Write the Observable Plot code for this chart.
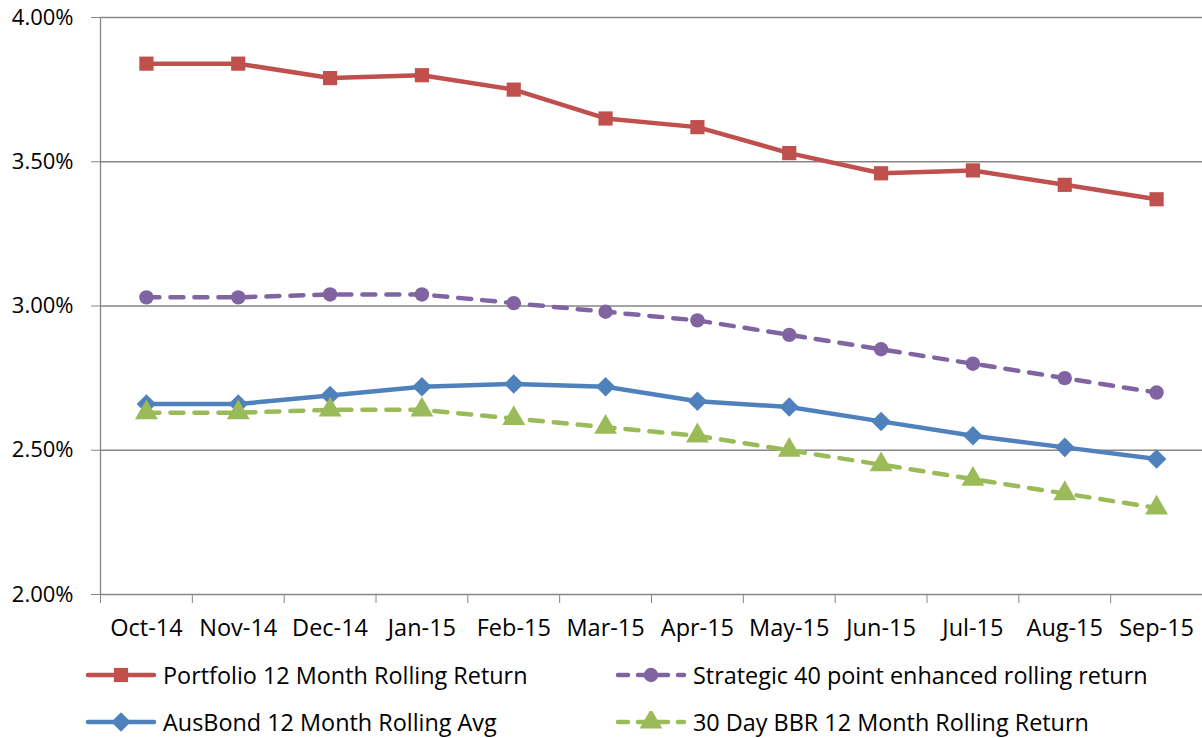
<!DOCTYPE html>
<html>
<head>
<meta charset="utf-8">
<script src="https://cdn.jsdelivr.net/npm/d3@7"></script>
<script src="https://cdn.jsdelivr.net/npm/@observablehq/plot@0.6"></script>
<style>
  html, body { margin: 0; padding: 0; background: #fff; }
  body { width: 1202px; height: 738px; overflow: hidden; font-family: "Open Sans", sans-serif; }
  #chart svg { display: block; }
  #legend { position: relative; height: 93px; }
  .item { position: absolute; display: flex; align-items: center; font-size: 23.4px; color: #000; white-space: nowrap; }
  .item svg { display: block; margin-right: 6px; }
</style>
</head>
<body>
<div id="chart"></div>
<div id="legend"></div>
<script>
const months = ["Oct-14","Nov-14","Dec-14","Jan-15","Feb-15","Mar-15","Apr-15","May-15","Jun-15","Jul-15","Aug-15","Sep-15"];
const seriesNames = ["Portfolio 12 Month Rolling Return","Strategic 40 point enhanced rolling return","AusBond 12 Month Rolling Avg","30 Day BBR 12 Month Rolling Return"];
const portfolio = [3.84,3.84,3.79,3.80,3.75,3.65,3.62,3.53,3.46,3.47,3.42,3.37];
const strategic = [3.03,3.03,3.04,3.04,3.01,2.98,2.95,2.90,2.85,2.80,2.75,2.70];
const ausbond   = [2.66,2.66,2.69,2.72,2.73,2.72,2.67,2.65,2.60,2.55,2.51,2.47];
const bbr       = [2.63,2.63,2.64,2.64,2.61,2.58,2.55,2.50,2.45,2.40,2.35,2.30];
const yTicks = [2.0,2.5,3.0,3.5,4.0];

const colors = ["#C0504D","#8064A2","#4F81BD","#9BBB59"];
const symbols = ["square","circle","diamond2","triangle"];
const radii = [8,7.2,8.8,8.5];
const dashed = [false,true,false,true];
const values = [portfolio, strategic, ausbond, bbr];

const data = [];
values.forEach((arr, s) => arr.forEach((v, i) => data.push({s, i, v})));

const marks = [
  Plot.ruleY(yTicks.slice(1), {stroke: "#868686", strokeWidth: 1.3}),
  Plot.axisY({ticks: yTicks, tickFormat: d => d.toFixed(2) + "%", tickSize: 9, tickPadding: 18, fontSize: 22, stroke: "#868686", color: "#000", label: null}),
  Plot.axisX({ticks: d3.range(12), tickFormat: i => months[i], tickSize: 0, tickPadding: 25, fontSize: 23.5, label: null}),
  Plot.axisX({ticks: d3.range(13).map(k => k - 0.5), tickFormat: () => "", tickSize: 9, stroke: "#868686", label: null}),
  Plot.ruleX([-0.5], {stroke: "#868686", strokeWidth: 1.3}),
  Plot.ruleY([2.0], {stroke: "#868686", strokeWidth: 1.3})
];
for (let s = 0; s < 4; s++) {
  const d = data.filter(r => r.s === s);
  marks.push(Plot.line(d, {x: "i", y: "v", stroke: colors[s], strokeWidth: 4.5, curve: "linear", strokeLinejoin: "round",
    strokeDasharray: dashed[s] ? "13,11" : null, strokeLinecap: dashed[s] ? "round" : "butt"}));
  marks.push(Plot.dot(d, {x: "i", y: "v", symbol: () => symbols[s], r: radii[s], fill: colors[s], stroke: "none"}));
}

const chart = Plot.plot({
  width: 1202,
  height: 645,
  marginLeft: 100,
  marginRight: 0,
  marginTop: 17,
  marginBottom: 51,
  style: {fontFamily: "Open Sans, sans-serif", fontSize: "22px", color: "#000"},
  x: {type: "linear", domain: [-0.5, 11.5]},
  y: {domain: [2, 4]},
  symbol: {type: "identity"},
  marks
});
document.getElementById("chart").appendChild(chart);

const legend = document.getElementById("legend");
const pos = [[85, 30], [615, 30], [85, 77], [615, 77]];
for (let s = 0; s < 4; s++) {
  const item = document.createElement("div");
  item.className = "item";
  item.style.left = pos[s][0] + "px";
  item.style.top = (pos[s][1] - 16) + "px";
  item.style.height = "32px";
  const svg = d3.create("svg").attr("width", 72).attr("height", 22);
  svg.append("line").attr("x1", 3).attr("x2", 69).attr("y1", 11).attr("y2", 11)
    .attr("stroke", colors[s]).attr("stroke-width", 4.5).attr("stroke-linecap", "round")
    .attr("stroke-dasharray", dashed[s] ? "10,10" : null);
  const symMap = {square: d3.symbolSquare, circle: d3.symbolCircle, diamond2: d3.symbolDiamond2, triangle: d3.symbolTriangle};
  svg.append("path").attr("transform", "translate(36,11)")
    .attr("d", d3.symbol(symMap[symbols[s]], Math.PI * radii[s] * radii[s])())
    .attr("fill", colors[s]);
  item.appendChild(svg.node());
  const t = document.createElement("span");
  t.textContent = seriesNames[s];
  item.appendChild(t);
  legend.appendChild(item);
}
</script>
</body>
</html>
